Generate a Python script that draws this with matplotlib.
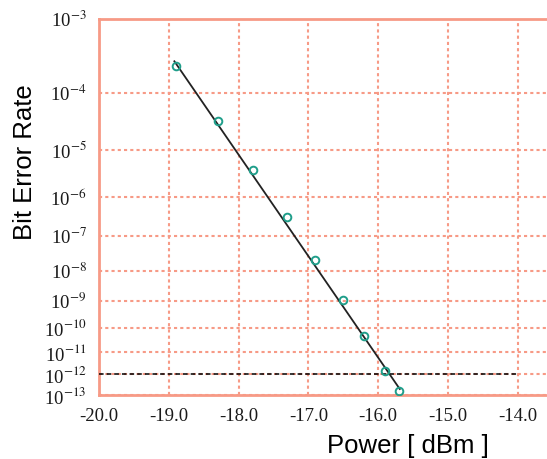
import numpy as np
import matplotlib
matplotlib.use("Agg")
import matplotlib.pyplot as plt

# measured points (received power, BER)
power = [-18.9, -18.3, -17.8, -17.3, -16.9, -16.5, -16.2, -15.9, -15.7]
ber = [2.5e-4, 3.4e-5, 3.9e-6, 3.2e-7, 2.1e-8, 1.1e-9, 4.7e-11, 1.5e-12, 1.6e-13]

# fitted line end points
fit_power = [-18.92, -15.69]
fit_ber = [2.9e-4, 2.0e-13]

# reference BER level
ref_power = [-20.0, -14.0]
ref_ber = [1e-12, 1e-12]

x_ticks = [-20.0, -19.0, -18.0, -17.0, -16.0, -15.0, -14.0]
y_exps = [3, 4, 5, 6, 7, 8, 9, 10, 11, 12, 13]

salmon = "#f79a86"
plt.rcParams["mathtext.fontset"] = "stix"


def fwd(y):
    y = np.clip(np.asarray(y, dtype=float), 1e-300, 0.999)
    return -np.log10(-np.log10(y))


def inv(f):
    return 10.0 ** (-(10.0 ** (-np.asarray(f, dtype=float))))


fig = plt.figure(figsize=(5.47, 4.59), dpi=100)
ax = fig.add_axes([0.181, 0.1394, 0.819, 0.8192])

ax.set_yscale("function", functions=(fwd, inv))
ax.set_xlim(-20.0, -13.58)
ax.set_ylim(1e-13, 1e-3)

ax.plot(ref_power, ref_ber, color="black", linestyle=(0, (3, 2)), linewidth=1.1, zorder=3)
ax.plot(fit_power, fit_ber, color="#222222", linewidth=1.3, zorder=4)
ax.plot(power, ber, linestyle="none", marker="o", markersize=5.5,
        markerfacecolor="none", markeredgecolor="#1f9e8a", markeredgewidth=1.4, zorder=5)

ax.set_xticks(x_ticks)
ax.set_xticklabels([f"{v:.1f}" for v in x_ticks], fontfamily="Liberation Serif", fontsize=13.5)
ax.set_yticks([10.0 ** -e for e in y_exps])
ax.set_yticklabels([f"10$^{{-{e}}}$" for e in y_exps], fontfamily="Liberation Serif", fontsize=13.5)
ax.yaxis.set_minor_locator(matplotlib.ticker.NullLocator())
ax.tick_params(axis="both", length=0, pad=9, colors="#1a1a1a")

ax.grid(True, color=salmon, linestyle=(0, (1.5, 1.5)), linewidth=1.5)

ax.spines["right"].set_visible(False)
for side in ["left", "bottom", "top"]:
    ax.spines[side].set_color(salmon)
    ax.spines[side].set_linewidth(2)

ax.set_ylabel("Bit Error Rate", fontfamily="Liberation Sans", fontsize=18.5)
ax.yaxis.set_label_coords(-0.138, 0.62)
ax.set_xlabel("Power [ dBm ]", fontfamily="Liberation Sans", fontsize=18.5)
ax.xaxis.set_label_coords(0.69, -0.104)

fig.savefig("out.png", dpi=100)
